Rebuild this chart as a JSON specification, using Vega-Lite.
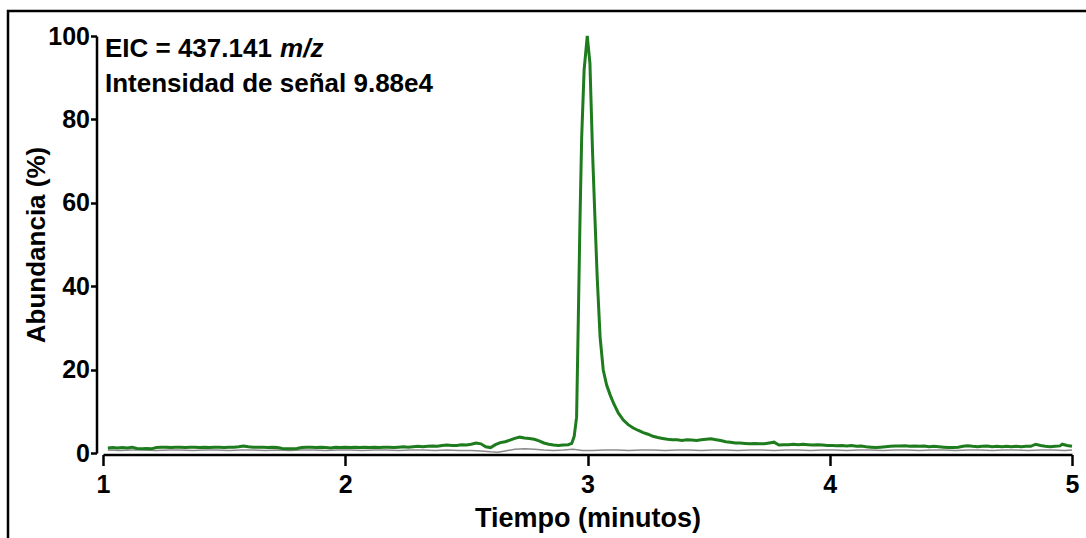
{
  "$schema": "https://vega.github.io/schema/vega-lite/v6.json",
  "width": 1078,
  "height": 527,
  "autosize": {"type": "none"},
  "padding": {"left": 8, "top": 11, "right": 0, "bottom": 0},
  "background": "white",
  "config": {
    "view": {"stroke": "#000000", "strokeWidth": 2.5, "strokeDash": [1078, 1605, 527]},
    "font": "Liberation Sans"
  },
  "datasets": {
    "eic": [
      {"t": 1.02, "v": 1.2}, {"t": 1.04, "v": 1.3}, {"t": 1.06, "v": 1.2}, {"t": 1.08, "v": 1.3}, {"t": 1.10, "v": 1.2},
      {"t": 1.12, "v": 1.4}, {"t": 1.14, "v": 1.1}, {"t": 1.16, "v": 1.0}, {"t": 1.18, "v": 1.1}, {"t": 1.20, "v": 1.0},
      {"t": 1.22, "v": 1.3}, {"t": 1.24, "v": 1.4}, {"t": 1.26, "v": 1.4}, {"t": 1.28, "v": 1.3}, {"t": 1.30, "v": 1.4},
      {"t": 1.32, "v": 1.4}, {"t": 1.34, "v": 1.3}, {"t": 1.36, "v": 1.4}, {"t": 1.38, "v": 1.4}, {"t": 1.40, "v": 1.3},
      {"t": 1.42, "v": 1.4}, {"t": 1.44, "v": 1.3}, {"t": 1.46, "v": 1.4}, {"t": 1.48, "v": 1.4}, {"t": 1.50, "v": 1.3},
      {"t": 1.52, "v": 1.4}, {"t": 1.54, "v": 1.4}, {"t": 1.56, "v": 1.5}, {"t": 1.58, "v": 1.7}, {"t": 1.60, "v": 1.5},
      {"t": 1.62, "v": 1.4}, {"t": 1.64, "v": 1.4}, {"t": 1.66, "v": 1.4}, {"t": 1.68, "v": 1.3}, {"t": 1.70, "v": 1.4},
      {"t": 1.72, "v": 1.3}, {"t": 1.74, "v": 1.1}, {"t": 1.76, "v": 1.0}, {"t": 1.78, "v": 1.0}, {"t": 1.80, "v": 1.1},
      {"t": 1.82, "v": 1.3}, {"t": 1.84, "v": 1.4}, {"t": 1.86, "v": 1.4}, {"t": 1.88, "v": 1.3}, {"t": 1.90, "v": 1.4},
      {"t": 1.92, "v": 1.3}, {"t": 1.94, "v": 1.2}, {"t": 1.96, "v": 1.4}, {"t": 1.98, "v": 1.3}, {"t": 2.00, "v": 1.4},
      {"t": 2.02, "v": 1.3}, {"t": 2.04, "v": 1.4}, {"t": 2.06, "v": 1.3}, {"t": 2.08, "v": 1.4}, {"t": 2.10, "v": 1.3},
      {"t": 2.12, "v": 1.4}, {"t": 2.14, "v": 1.3}, {"t": 2.16, "v": 1.4}, {"t": 2.18, "v": 1.4}, {"t": 2.20, "v": 1.3},
      {"t": 2.22, "v": 1.4}, {"t": 2.24, "v": 1.5}, {"t": 2.26, "v": 1.4}, {"t": 2.28, "v": 1.5}, {"t": 2.30, "v": 1.6},
      {"t": 2.32, "v": 1.5}, {"t": 2.34, "v": 1.6}, {"t": 2.36, "v": 1.7}, {"t": 2.38, "v": 1.6}, {"t": 2.40, "v": 1.8},
      {"t": 2.42, "v": 1.9}, {"t": 2.44, "v": 1.8}, {"t": 2.46, "v": 1.8}, {"t": 2.48, "v": 2.0}, {"t": 2.50, "v": 1.9},
      {"t": 2.52, "v": 2.1}, {"t": 2.54, "v": 2.4}, {"t": 2.56, "v": 2.2}, {"t": 2.58, "v": 1.5}, {"t": 2.60, "v": 1.3},
      {"t": 2.62, "v": 2.0}, {"t": 2.64, "v": 2.5}, {"t": 2.66, "v": 2.7}, {"t": 2.68, "v": 3.1}, {"t": 2.70, "v": 3.5},
      {"t": 2.72, "v": 3.8}, {"t": 2.74, "v": 3.6}, {"t": 2.76, "v": 3.5}, {"t": 2.78, "v": 3.3}, {"t": 2.80, "v": 2.9},
      {"t": 2.82, "v": 2.4}, {"t": 2.84, "v": 2.1}, {"t": 2.86, "v": 1.9}, {"t": 2.88, "v": 1.8}, {"t": 2.90, "v": 1.9},
      {"t": 2.92, "v": 2.0}, {"t": 2.935, "v": 2.3}, {"t": 2.945, "v": 4.0}, {"t": 2.955, "v": 8.6}, {"t": 2.962, "v": 31.9},
      {"t": 2.969, "v": 55.9}, {"t": 2.976, "v": 75.8}, {"t": 2.986, "v": 91.8}, {"t": 2.999, "v": 100}, {"t": 3.010, "v": 93.5},
      {"t": 3.021, "v": 71.9}, {"t": 3.031, "v": 55.9}, {"t": 3.040, "v": 42.2}, {"t": 3.052, "v": 27.8}, {"t": 3.065, "v": 19.9},
      {"t": 3.079, "v": 16.3}, {"t": 3.093, "v": 14.0}, {"t": 3.107, "v": 12.0}, {"t": 3.127, "v": 9.6}, {"t": 3.148, "v": 7.9},
      {"t": 3.168, "v": 6.8}, {"t": 3.189, "v": 6.0}, {"t": 3.21, "v": 5.4}, {"t": 3.23, "v": 4.9}, {"t": 3.25, "v": 4.5},
      {"t": 3.27, "v": 4.0}, {"t": 3.29, "v": 3.7}, {"t": 3.31, "v": 3.5}, {"t": 3.33, "v": 3.3}, {"t": 3.35, "v": 3.2},
      {"t": 3.37, "v": 3.2}, {"t": 3.39, "v": 3.0}, {"t": 3.41, "v": 3.2}, {"t": 3.43, "v": 3.1}, {"t": 3.45, "v": 3.0},
      {"t": 3.47, "v": 3.2}, {"t": 3.49, "v": 3.3}, {"t": 3.51, "v": 3.4}, {"t": 3.53, "v": 3.2}, {"t": 3.55, "v": 3.0},
      {"t": 3.57, "v": 2.7}, {"t": 3.59, "v": 2.6}, {"t": 3.61, "v": 2.4}, {"t": 3.63, "v": 2.4}, {"t": 3.65, "v": 2.3},
      {"t": 3.67, "v": 2.2}, {"t": 3.69, "v": 2.3}, {"t": 3.71, "v": 2.2}, {"t": 3.73, "v": 2.2}, {"t": 3.75, "v": 2.4},
      {"t": 3.77, "v": 2.6}, {"t": 3.79, "v": 1.9}, {"t": 3.81, "v": 2.0}, {"t": 3.83, "v": 2.0}, {"t": 3.85, "v": 2.1},
      {"t": 3.87, "v": 2.0}, {"t": 3.89, "v": 2.1}, {"t": 3.91, "v": 2.0}, {"t": 3.93, "v": 1.9}, {"t": 3.95, "v": 2.0},
      {"t": 3.97, "v": 1.9}, {"t": 3.99, "v": 1.8}, {"t": 4.01, "v": 1.8}, {"t": 4.03, "v": 1.75}, {"t": 4.05, "v": 1.8},
      {"t": 4.07, "v": 1.7}, {"t": 4.09, "v": 1.8}, {"t": 4.11, "v": 1.6}, {"t": 4.13, "v": 1.7}, {"t": 4.15, "v": 1.5},
      {"t": 4.17, "v": 1.4}, {"t": 4.19, "v": 1.3}, {"t": 4.21, "v": 1.4}, {"t": 4.23, "v": 1.5}, {"t": 4.25, "v": 1.6},
      {"t": 4.27, "v": 1.7}, {"t": 4.29, "v": 1.7}, {"t": 4.31, "v": 1.75}, {"t": 4.33, "v": 1.6}, {"t": 4.35, "v": 1.7},
      {"t": 4.37, "v": 1.6}, {"t": 4.39, "v": 1.7}, {"t": 4.41, "v": 1.5}, {"t": 4.43, "v": 1.6}, {"t": 4.45, "v": 1.5},
      {"t": 4.47, "v": 1.4}, {"t": 4.49, "v": 1.3}, {"t": 4.51, "v": 1.3}, {"t": 4.53, "v": 1.4}, {"t": 4.55, "v": 1.6},
      {"t": 4.57, "v": 1.75}, {"t": 4.59, "v": 1.6}, {"t": 4.61, "v": 1.5}, {"t": 4.63, "v": 1.6}, {"t": 4.65, "v": 1.7},
      {"t": 4.67, "v": 1.5}, {"t": 4.69, "v": 1.6}, {"t": 4.71, "v": 1.5}, {"t": 4.73, "v": 1.6}, {"t": 4.75, "v": 1.5},
      {"t": 4.77, "v": 1.6}, {"t": 4.79, "v": 1.5}, {"t": 4.81, "v": 1.6}, {"t": 4.83, "v": 1.6}, {"t": 4.85, "v": 2.1},
      {"t": 4.87, "v": 1.8}, {"t": 4.89, "v": 1.6}, {"t": 4.91, "v": 1.5}, {"t": 4.93, "v": 1.6}, {"t": 4.95, "v": 1.7},
      {"t": 4.96, "v": 2.1}, {"t": 4.98, "v": 1.8}, {"t": 5.00, "v": 1.6}
    ],
    "blank": [
      {"t": 1.02, "v": 0.7}, {"t": 1.07, "v": 0.6}, {"t": 1.12, "v": 0.7}, {"t": 1.17, "v": 0.7}, {"t": 1.22, "v": 0.6},
      {"t": 1.27, "v": 0.7}, {"t": 1.32, "v": 0.7}, {"t": 1.37, "v": 0.6}, {"t": 1.42, "v": 0.7}, {"t": 1.47, "v": 0.7},
      {"t": 1.52, "v": 0.6}, {"t": 1.57, "v": 0.7}, {"t": 1.62, "v": 0.7}, {"t": 1.67, "v": 0.6}, {"t": 1.72, "v": 0.7},
      {"t": 1.77, "v": 0.6}, {"t": 1.82, "v": 0.7}, {"t": 1.87, "v": 0.7}, {"t": 1.92, "v": 0.6}, {"t": 1.97, "v": 0.7},
      {"t": 2.02, "v": 0.7}, {"t": 2.07, "v": 0.6}, {"t": 2.12, "v": 0.7}, {"t": 2.17, "v": 0.7}, {"t": 2.22, "v": 0.6},
      {"t": 2.27, "v": 0.7}, {"t": 2.32, "v": 0.7}, {"t": 2.37, "v": 0.6}, {"t": 2.42, "v": 0.7}, {"t": 2.47, "v": 0.6},
      {"t": 2.52, "v": 0.6}, {"t": 2.56, "v": 0.5}, {"t": 2.60, "v": 0.3}, {"t": 2.63, "v": 0.2}, {"t": 2.66, "v": 0.5},
      {"t": 2.70, "v": 0.9}, {"t": 2.74, "v": 1.0}, {"t": 2.78, "v": 0.9}, {"t": 2.82, "v": 0.7}, {"t": 2.86, "v": 0.6},
      {"t": 2.90, "v": 0.7}, {"t": 2.94, "v": 0.9}, {"t": 2.98, "v": 0.6}, {"t": 3.02, "v": 0.6}, {"t": 3.07, "v": 0.7},
      {"t": 3.12, "v": 0.7}, {"t": 3.17, "v": 0.6}, {"t": 3.22, "v": 0.7}, {"t": 3.27, "v": 0.7}, {"t": 3.32, "v": 0.6},
      {"t": 3.37, "v": 0.7}, {"t": 3.42, "v": 0.7}, {"t": 3.47, "v": 0.6}, {"t": 3.52, "v": 0.7}, {"t": 3.57, "v": 0.7},
      {"t": 3.62, "v": 0.6}, {"t": 3.67, "v": 0.7}, {"t": 3.72, "v": 0.7}, {"t": 3.77, "v": 0.6}, {"t": 3.82, "v": 0.7},
      {"t": 3.87, "v": 0.7}, {"t": 3.92, "v": 0.6}, {"t": 3.97, "v": 0.7}, {"t": 4.02, "v": 0.7}, {"t": 4.07, "v": 0.6},
      {"t": 4.12, "v": 0.7}, {"t": 4.17, "v": 0.7}, {"t": 4.22, "v": 0.6}, {"t": 4.27, "v": 0.7}, {"t": 4.32, "v": 0.7},
      {"t": 4.37, "v": 0.6}, {"t": 4.42, "v": 0.7}, {"t": 4.47, "v": 0.7}, {"t": 4.52, "v": 0.6}, {"t": 4.57, "v": 0.7},
      {"t": 4.62, "v": 0.7}, {"t": 4.67, "v": 0.6}, {"t": 4.72, "v": 0.7}, {"t": 4.77, "v": 0.7}, {"t": 4.82, "v": 0.6},
      {"t": 4.87, "v": 0.7}, {"t": 4.92, "v": 0.7}, {"t": 4.97, "v": 0.6}, {"t": 5.00, "v": 0.7}
    ],
    "notes": [
      {"t": 1.008, "v": 95.0, "label": "EIC = 437.141", "style": "normal"},
      {"t": 1.731, "v": 95.0, "label": "m/z", "style": "italic"},
      {"t": 1.008, "v": 86.5, "label": "Intensidad de señal 9.88e4", "style": "normal"}
    ]
  },
  "encoding": {
    "x": {
      "field": "t",
      "type": "quantitative",
      "scale": {"domain": [1, 5], "range": [95, 1064], "zero": false, "nice": false},
      "axis": {
        "values": [1, 2, 3, 4, 5],
        "format": "d",
        "title": "Tiempo (minutos)",
        "offset": -83.5,
        "grid": false,
        "domainColor": "#000000",
        "domainWidth": 2.5,
        "tickColor": "#000000",
        "tickWidth": 2.5,
        "tickSize": 11,
        "labelFont": "Liberation Sans",
        "labelFontWeight": "bold",
        "labelFontSize": 25,
        "labelColor": "#000000",
        "labelPadding": 7,
        "labelFlush": false,
        "titleFont": "Liberation Sans",
        "titleFontWeight": "bold",
        "titleFontSize": 27,
        "titleColor": "#000000",
        "titlePadding": 8
      }
    },
    "y": {
      "field": "v",
      "type": "quantitative",
      "scale": {"domain": [0, 100], "range": [442, 25], "zero": false, "nice": false},
      "axis": {
        "values": [0, 20, 40, 60, 80, 100],
        "format": "d",
        "title": "Abundancia (%)",
        "offset": -88.5,
        "grid": false,
        "domainColor": "#000000",
        "domainWidth": 2.5,
        "tickColor": "#000000",
        "tickWidth": 2.5,
        "tickSize": 6,
        "labelFont": "Liberation Sans",
        "labelFontWeight": "bold",
        "labelFontSize": 25,
        "labelColor": "#000000",
        "labelPadding": 1,
        "titleFont": "Liberation Sans",
        "titleFontWeight": "bold",
        "titleFontSize": 26,
        "titleColor": "#000000",
        "titlePadding": -2
      }
    }
  },
  "layer": [
    {
      "data": {"name": "blank"},
      "mark": {"type": "line", "color": "#8a8a8a", "strokeWidth": 1.5, "interpolate": "linear"}
    },
    {
      "data": {"name": "eic"},
      "mark": {"type": "line", "color": "#1e7b1e", "strokeWidth": 3, "interpolate": "linear"}
    },
    {
      "data": {"name": "notes"},
      "transform": [{"filter": "datum.style === 'normal'"}],
      "mark": {"type": "text", "align": "left", "baseline": "alphabetic", "font": "Liberation Sans", "fontWeight": "bold", "fontSize": 26, "color": "#000000"},
      "encoding": {"text": {"field": "label"}}
    },
    {
      "data": {"name": "notes"},
      "transform": [{"filter": "datum.style === 'italic'"}],
      "mark": {"type": "text", "align": "left", "baseline": "alphabetic", "font": "Liberation Sans", "fontWeight": "bold", "fontStyle": "italic", "fontSize": 26, "color": "#000000"},
      "encoding": {"text": {"field": "label"}}
    }
  ]
}
